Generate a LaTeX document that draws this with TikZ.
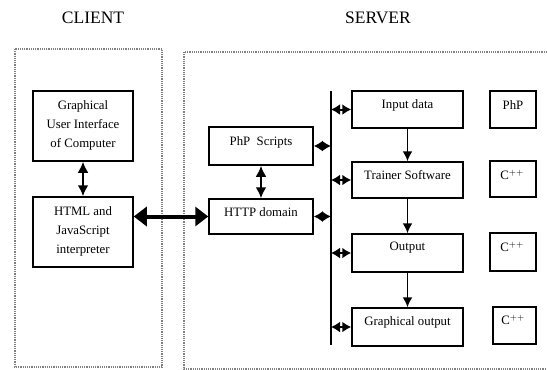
\documentclass[tikz,border=0pt]{standalone}
\usepackage{fontspec}
\setmainfont{Liberation Serif}
\usetikzlibrary{arrows.meta}
\begin{document}
\begin{tikzpicture}[x=1pt,y=-1pt,
  box/.style={draw, line width=1.5pt, inner sep=0pt},
  lbl/.style={font=\fontsize{12.8}{19}\selectfont, align=center, inner sep=0pt},
  head/.style={font=\fontsize{17.5}{20}\selectfont, inner sep=0pt},
  frame/.style={draw=gray, densely dotted, line width=1.2pt},
  busarrow/.style={line width=2pt, {Latex[length=9pt,width=11pt]}-{Latex[length=9pt,width=11pt]}},
  downarrow/.style={line width=1.8pt, -{Latex[length=10pt,width=10pt]}},
  vdarrow/.style={line width=2.6pt, {Latex[length=11pt,width=11pt]}-{Latex[length=11pt,width=11pt]}},
  bigarrow/.style={line width=4pt, {Triangle[length=13pt,width=19pt]}-{Triangle[length=13pt,width=19pt]}}]
\useasboundingbox (0,0) rectangle (547,370);

% titles
\node[head] (client) at (93,18) {CLIENT};
\node[head] (server) at (378,18) {SERVER};

% frames
\draw[frame] (15,49) rectangle (162,367);
\draw[frame] (547,52) -- (184,52) -- (184,369) -- (547,369);

% client boxes
\node[box, minimum width=100pt, minimum height=70pt] (gui) at (83,126) {};
\node[lbl] (guit) at (83,125) {Graphical\\User Interface\\of Computer};
\node[box, minimum width=100pt, minimum height=70pt] (html) at (83,232) {};
\node[lbl] (htmlt) at (83,231) {HTML and\\JavaScript\\interpreter};

% middle boxes
\node[box, minimum width=104pt, minimum height=38pt] (phps) at (261,146) {};
\node[lbl] (phpst) at (261,142) {PhP~~Scripts};
\node[box, minimum width=104pt, minimum height=35pt] (http) at (261,216.5) {};
\node[lbl] (httpt) at (261,212) {HTTP domain};

% right boxes
\node[box, minimum width=111pt, minimum height=37pt] (inp) at (407.5,109.5) {};
\node[lbl] (inpt) at (407.5,105) {Input data};
\node[box, minimum width=111pt, minimum height=36pt] (trn) at (407.5,180) {};
\node[lbl] (trnt) at (407.5,175) {Trainer Software};
\node[box, minimum width=111pt, minimum height=38pt] (out) at (407.5,253) {};
\node[lbl] (outt) at (407.5,248) {Output};
\node[box, minimum width=111pt, minimum height=38pt] (gro) at (407.5,327) {};
\node[lbl] (grot) at (407.5,322) {Graphical output};

% language boxes
\node[box, minimum width=46pt, minimum height=37pt] (l1) at (513,109.5) {};
\node[lbl] (l1t) at (513,105) {PhP};
\node[box, minimum width=46pt, minimum height=36pt] (l2) at (513,179) {};
\node[lbl] (l2t) at (512,175) {C$^{++}$};
\node[box, minimum width=46pt, minimum height=38pt] (l3) at (513,252) {};
\node[lbl] (l3t) at (512,247) {C$^{++}$};
\node[box, minimum width=43pt, minimum height=37pt] (l4) at (514.5,325.5) {};
\node[lbl] (l4t) at (513,320) {C$^{++}$};

% bus
\coordinate (busT) at (331,91);
\coordinate (busB) at (331,345);
\draw[line width=2.5pt] (busT) -- (busB);

% connectors
\draw[vdarrow] (gui.south) -- (html.north);
\draw[bigarrow] (html.east |- http.west) -- (http.west);
\draw[vdarrow] (phps.south) -- (http.north);

\draw[busarrow] (phps.east) -- (phps.east -| busT);
\draw[busarrow] (http.east) -- (http.east -| busT);
\draw[busarrow] (inp.west -| busT) -- (inp.west);
\draw[busarrow] (trn.west -| busT) -- (trn.west);
\draw[busarrow] (out.west -| busT) -- (out.west);
\draw[busarrow] (gro.west -| busT) -- (gro.west);

\draw[downarrow] (inp.south) -- (trn.north);
\draw[downarrow] (trn.south) -- (out.north);
\draw[downarrow] (out.south) -- (gro.north);
\end{tikzpicture}
\end{document}
